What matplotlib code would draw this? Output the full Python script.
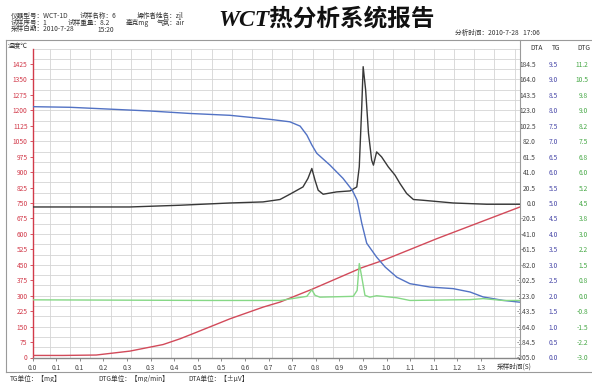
import matplotlib
matplotlib.use('Agg')
import matplotlib.pyplot as plt
import numpy as np
from matplotlib.lines import Line2D

plt.rcParams['font.family'] = ['Noto Sans CJK SC', 'DejaVu Sans']
plt.rcParams['axes.unicode_minus'] = False

# ---------------- data ----------------
# temperature (deg C) vs sampling time (h)
temp_time = [0.0, 0.086, 0.180, 0.275, 0.369, 0.417, 0.464, 0.558, 0.652, 0.699,
             0.789, 0.930, 0.991, 1.142, 1.377]
temp_c = [10, 10, 12, 31, 63, 91, 123, 188, 245, 269,
          331, 436, 472, 577, 731]

# TG (mg)
tg_time = [0.0, 0.106, 0.219, 0.332, 0.445, 0.558, 0.671, 0.727, 0.756, 0.775,
           0.789, 0.803, 0.840, 0.877, 0.903, 0.917, 0.930, 0.944, 0.972, 0.996,
           1.029, 1.066, 1.123, 1.188, 1.236, 1.273, 1.329, 1.377]
tg_mg = [8.12, 8.10, 8.04, 7.98, 7.90, 7.84, 7.71, 7.63, 7.49, 7.20,
         6.88, 6.61, 6.23, 5.80, 5.42, 5.09, 4.35, 3.70, 3.25, 2.93,
         2.60, 2.39, 2.28, 2.23, 2.12, 1.96, 1.85, 1.79]

# DTA (uV)
dta_time = [0.0, 0.275, 0.417, 0.558, 0.651, 0.699, 0.727, 0.764, 0.778, 0.789,
            0.798, 0.807, 0.821, 0.859, 0.897, 0.916, 0.923, 0.930, 0.934, 0.941,
            0.949, 0.958, 0.963, 0.972, 0.986, 1.005, 1.024, 1.038, 1.057, 1.076,
            1.103, 1.188, 1.283, 1.377]
dta_uv = [-5.2, -5.2, -2.9, 0.1, 1.5, 4.7, 11.7, 21.4, 32.6, 45.9,
          30.3, 17.0, 11.7, 14.8, 16.1, 21.4, 48.0, 127.8, 181.0, 150.0,
          92.8, 56.9, 50.3, 67.9, 61.3, 48.0, 37.0, 25.9, 12.6, 4.7,
          3.7, 0.1, -1.6, -1.6]

# DTG (mg/min)
dtg_time = [0.0, 0.5, 0.7, 0.775, 0.789, 0.798, 0.812, 0.906, 0.917, 0.923,
            0.930, 0.939, 0.953, 0.972, 1.029, 1.066, 1.236, 1.273, 1.329, 1.377]
dtg_val = [-0.20, -0.23, -0.23, -0.03, 0.29, 0.02, -0.07, -0.03, 0.26, 1.56,
           0.91, 0.02, -0.07, 0.00, -0.10, -0.23, -0.19, -0.14, -0.23, -0.23]

# tick labels
x_ticks = [k / 15 for k in range(20)]
x_tick_labels = ['0.0', '0.1', '0.1', '0.2', '0.3', '0.3', '0.4', '0.5', '0.5', '0.6',
                 '0.7', '0.7', '0.8', '0.9', '0.9', '1.0', '1.1', '1.1', '1.2', '1.3']
temp_ticks = list(range(0, 1426, 75))
dta_ticks = [-205.0 + 20.5 * k for k in range(20)]
dta_labels = ['-205.0', '-184.5', '-164.0', '-143.5', '-123.0', '-102.5', '-82.0', '-61.5',
              '-41.0', '-20.5', '0.0', '20.5', '41.0', '61.5', '82.0', '102.5', '123.0',
              '143.5', '164.0', '184.5']
tg_ticks = [0.5 * k for k in range(20)]
tg_labels = ['%.1f' % v for v in tg_ticks]
dtg_ticks = [-3.0 + 0.75 * k for k in range(20)]
dtg_labels = ['-3.0', '-2.2', '-1.5', '-0.8', '0.0', '0.8', '1.5', '2.2', '3.0', '3.8',
              '4.5', '5.2', '6.0', '6.8', '7.5', '8.2', '9.0', '9.8', '10.5', '11.2']

# ---------------- figure ----------------
W, H = 592, 382
fig = plt.figure(figsize=(W / 100, H / 100), dpi=100)


def fx(x):
    return x / W


def fy(y):
    return 1 - y / H


left, right, bottom, top = 32.5, 520, 357.5, 48.6
ax = fig.add_axes([fx(left), fy(bottom), fx(right - left), (bottom - top) / H])
ax.set_xlim(0, 1.377)
ax.set_ylim(0, 1500)

# grid
grid_c = '#d4d4d4'
for g in np.arange(50, 1501, 50):
    ax.axhline(g, color=grid_c, lw=0.6, zorder=0)
for g in np.arange(0.0494, 1.37, 0.05706):
    ax.axvline(g, color=grid_c, lw=0.6, zorder=0)

ax.plot(temp_time, temp_c, color='#d24a5a', lw=1.0, zorder=3)

for s in ['top', 'right']:
    ax.spines[s].set_visible(False)
ax.spines['left'].set_color('#d23a4a')
ax.spines['left'].set_linewidth(1.0)
ax.spines['bottom'].set_color('#888888')
ax.spines['bottom'].set_linewidth(1.0)

ax.set_yticks(temp_ticks)
ax.set_yticklabels([str(v) for v in temp_ticks])
ax.tick_params(axis='y', colors='#d23a4a', labelsize=4.8, length=2.5, width=0.6, pad=1)
ax.set_xticks(x_ticks)
ax.set_xticklabels(x_tick_labels)
ax.tick_params(axis='x', colors='#777777', labelcolor='#444444', labelsize=4.8,
               length=2.5, width=0.6, pad=2)


def make_twin(ylim, ticks, labels, color, pad):
    t = ax.twinx()
    t.set_ylim(*ylim)
    for s in t.spines.values():
        s.set_visible(False)
    t.set_yticks(ticks)
    t.set_yticklabels(labels)
    t.tick_params(axis='y', length=0, labelsize=4.8, labelcolor=color, pad=pad)
    for lab in t.get_yticklabels():
        lab.set_horizontalalignment('right')
    return t


ax_dta = make_twin((-205, 205), dta_ticks, dta_labels, '#444444', 11.5)
ax_tg = make_twin((0, 10), tg_ticks, tg_labels, '#4848a8', 27.5)
ax_dtg = make_twin((-3, 12), dtg_ticks, dtg_labels, '#46a846', 49)

ax_dtg.plot(dtg_time, dtg_val, color='#86d886', lw=1.0, zorder=2)
ax_dta.plot(dta_time, dta_uv, color='#383838', lw=1.0, zorder=3)
ax_tg.plot(tg_time, tg_mg, color='#5272c4', lw=1.0, zorder=3)

# ---------------- frame lines ----------------
frame_c = '#9a9a9a'
fig.add_artist(Line2D([fx(6), fx(592)], [fy(39.5), fy(39.5)], color=frame_c, lw=0.8))
fig.add_artist(Line2D([fx(6), fx(592)], [fy(372), fy(372)], color=frame_c, lw=0.8))
fig.add_artist(Line2D([fx(6), fx(6)], [fy(39.5), fy(372)], color=frame_c, lw=0.8))
fig.add_artist(Line2D([fx(520), fx(520)], [fy(39.5), fy(bottom)], color=frame_c, lw=0.8))

# ---------------- texts ----------------
small = 4.8
tc = '#333333'


def t(x, y, s, **kw):
    kw.setdefault('fontsize', small)
    kw.setdefault('color', tc)
    fig.text(fx(x), fy(y), s, va='center', **kw)


t(11, 16, '仪器型号：WCT-1D')
t(80, 16, '试样名称：6')
t(137, 16, '操作者姓名：zjl')
t(11, 23, '试样序号：1')
t(68, 23, '试样重量：8.2')
t(126, 23, '毫克mg')
t(157, 23, '气氛：air')
t(11, 29.5, '采样日期：2010-7-28')
t(97, 29.5, '15:20')
t(455, 32.5, '分析时间：2010-7-28   17:06')

fig.text(fx(218), fy(19), 'WCT热分析系统报告', fontsize=17, fontweight='bold',
         fontstyle='italic', color='#111111', va='center', ha='left',
         family=['Liberation Serif', 'Noto Sans CJK SC'])

t(8, 46.5, '温度℃')
t(530, 48, 'DTA')
t(552, 48, 'TG')
t(577, 48, 'DTG')
t(497, 367, '采样时间(S)')
t(10, 379, 'TG单位：【mg】')
t(98, 379, 'DTG单位：【mg/min】')
t(188, 379, 'DTA单位：【±μV】')

fig.savefig('out.png', dpi=100)
